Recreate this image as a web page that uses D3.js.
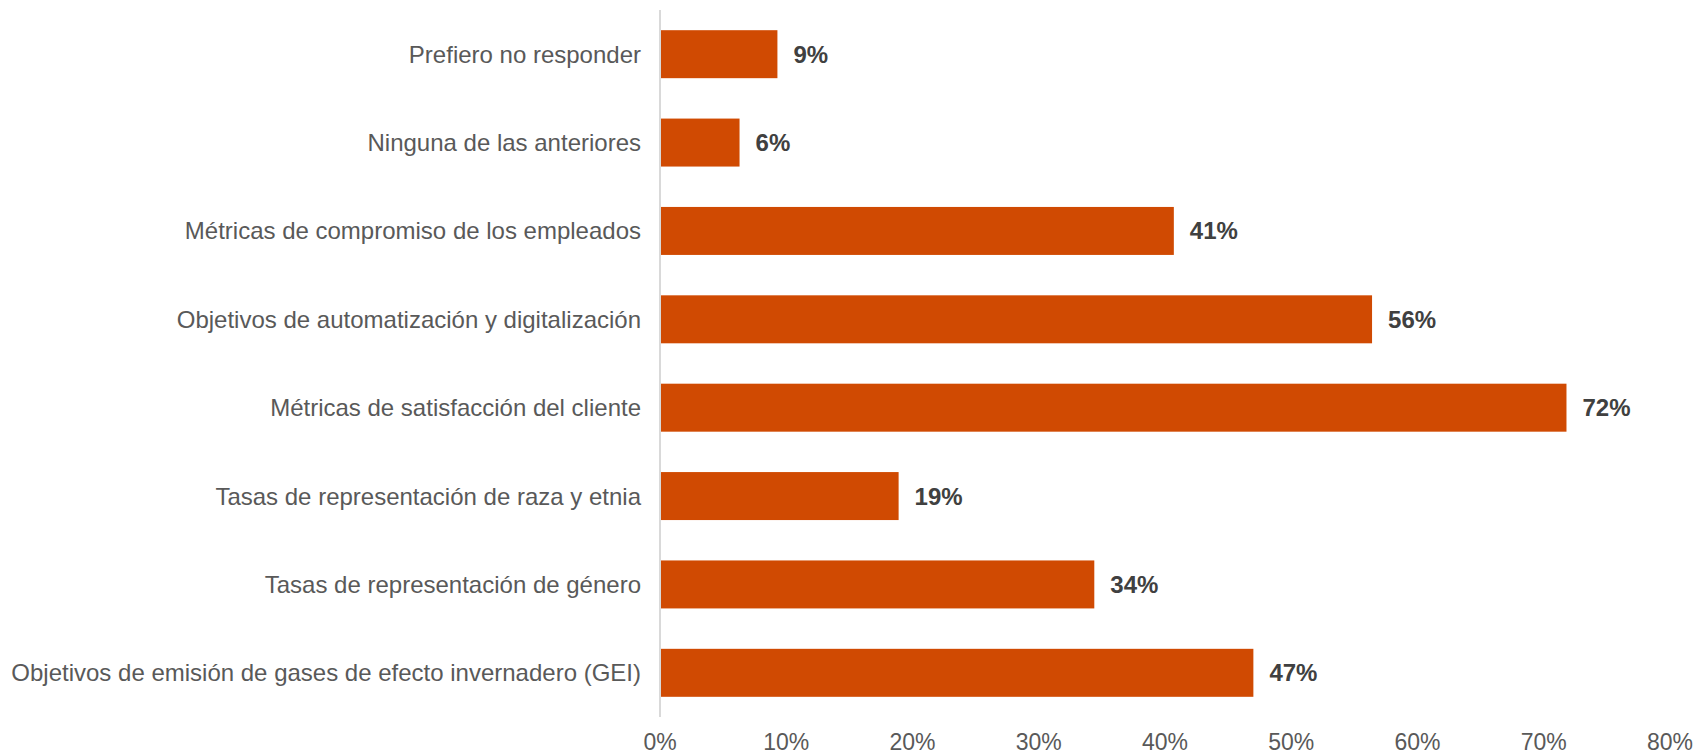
<!DOCTYPE html>
<html>
<head>
<meta charset="utf-8">
<script src="https://cdn.jsdelivr.net/npm/d3@7"></script>
<style>
  body { margin: 0; background: #fff; overflow: hidden; }
  text { font-family: Arial, "Liberation Sans", sans-serif; }
</style>
</head>
<body>
<div id="chart"></div>
<script>
// categories, top to bottom
const categories = [
    "Prefiero no responder",
    "Ninguna de las anteriores",
    "Métricas de compromiso de los empleados",
    "Objetivos de automatización y digitalización",
    "Métricas de satisfacción del cliente",
    "Tasas de representación de raza y etnia",
    "Tasas de representación de género",
    "Objetivos de emisión de gases de efecto invernadero (GEI)"
];
const values = [9.3, 6.3, 40.7, 56.4, 71.8, 18.9, 34.4, 47.0];
const valueLabels = ["9%", "6%", "41%", "56%", "72%", "19%", "34%", "47%"];
const ticks = [0, 10, 20, 30, 40, 50, 60, 70, 80];

const width = 1707, height = 756;
const margin = { top: 10, right: 37, bottom: 39, left: 660 };

const svg = d3.select("#chart")
    .append("svg")
    .attr("width", width)
    .attr("height", height)
    .style("display", "block");

const x = d3.scaleLinear()
    .domain([0, 80])
    .range([margin.left, width - margin.right]);

const y = d3.scaleBand()
    .domain(categories)
    .range([margin.top, height - margin.bottom])
    .paddingInner(0.457)
    .paddingOuter(0.457 / 2);

// bars
svg.append("g")
    .selectAll("rect")
    .data(values)
    .join("rect")
    .attr("x", x(0))
    .attr("y", (d, i) => y(categories[i]))
    .attr("width", d => x(d) - x(0))
    .attr("height", y.bandwidth())
    .attr("fill", "#D04A02");

// vertical axis line
svg.append("line")
    .attr("x1", x(0)).attr("x2", x(0))
    .attr("y1", margin.top).attr("y2", height - margin.bottom)
    .attr("stroke", "#D9D9D9")
    .attr("stroke-width", 2);

// category labels
svg.append("g")
    .selectAll("text")
    .data(categories)
    .join("text")
    .attr("x", x(0) - 19)
    .attr("y", d => y(d) + y.bandwidth() / 2)
    .attr("text-anchor", "end")
    .attr("dominant-baseline", "central")
    .attr("fill", "#595959")
    .style("font-size", "24px")
    .text(d => d);

// value labels
svg.append("g")
    .selectAll("text")
    .data(values)
    .join("text")
    .attr("x", d => x(d) + 16)
    .attr("y", (d, i) => y(categories[i]) + y.bandwidth() / 2)
    .attr("dominant-baseline", "central")
    .attr("fill", "#404040")
    .style("font-size", "24px")
    .style("font-weight", "bold")
    .text((d, i) => valueLabels[i]);

// x tick labels
svg.append("g")
    .selectAll("text")
    .data(ticks)
    .join("text")
    .attr("x", d => x(d))
    .attr("y", 750)
    .attr("text-anchor", "middle")
    .attr("fill", "#595959")
    .style("font-size", "23px")
    .text(d => d + "%");
</script>
</body>
</html>
